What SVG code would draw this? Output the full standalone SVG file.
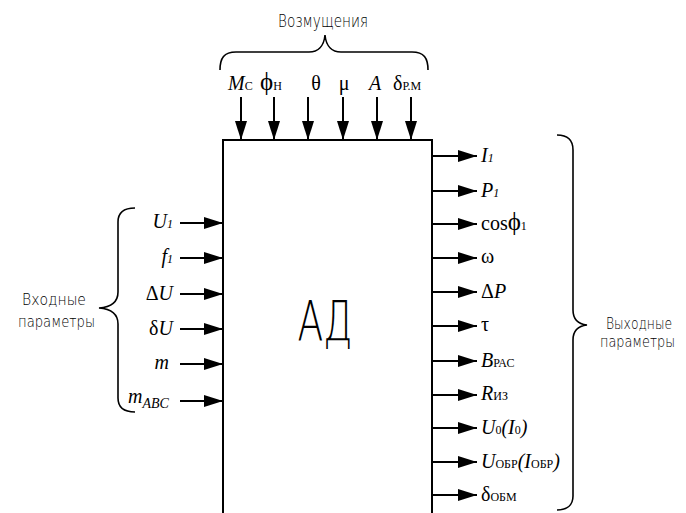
<svg xmlns="http://www.w3.org/2000/svg" width="686" height="513" viewBox="0 0 686 513">
<defs>
<marker id="ah" markerUnits="userSpaceOnUse" markerWidth="20" markerHeight="12" refX="19" refY="6" orient="auto">
<path d="M0,0 L19,6 L0,12 z" fill="#000"/>
</marker>
<style>
.ln{stroke:#000;stroke-width:2;fill:none}
.ar{stroke:#000;stroke-width:2;fill:none;marker-end:url(#ah)}
.br{stroke:#000;stroke-width:1.6;fill:none}
.cy{font-family:'DejaVu Sans',sans-serif;font-weight:200;fill:#000}
.m{font-family:'Liberation Serif','Times New Roman',serif;font-size:20px;fill:#000}
.i{font-style:italic}
.s{font-size:12px}
.ph{font-size:25px}
</style>
</defs>
<rect width="686" height="513" fill="#fff"/>

<g id="block">
<path class="ln" d="M223,514 V140 H432 V514"/>
<text class="cy" x="325" y="340" font-size="56" font-weight="300" text-anchor="middle" textLength="55" lengthAdjust="spacingAndGlyphs">АД</text>
</g>

<g id="disturbances">
<path class="br" d="M220,70 C220,58 224,52 236,52 L309,52 C318,52 324,46 325,35 C326,46 332,52 341,52 L412,52 C424,52 428,58 428,70"/>
<text class="cy" x="278" y="27" font-size="18" textLength="90" lengthAdjust="spacingAndGlyphs">Возмущения</text>
<text class="m" x="228" y="90"><tspan class="i">M</tspan><tspan class="s">С</tspan></text>
<text class="m" x="260" y="90"><tspan class="ph">ϕ</tspan><tspan class="s">Н</tspan></text>
<text class="m" x="316" y="90" text-anchor="middle">θ</text>
<text class="m" x="344" y="90" text-anchor="middle">μ</text>
<text class="m i" x="375" y="90" text-anchor="middle">A</text>
<text class="m" x="393" y="90">δ<tspan class="s">Р.М</tspan></text>
</g>

<g id="inputs">
<path class="br" d="M135,208 C124,208 118,213 118,222 L118,292 C118,301 112,307 99,308 C112,309 118,315 118,324 L118,398 C118,407 124,412 135,412"/>
<text class="cy" x="22" y="305" font-size="15" textLength="64" lengthAdjust="spacingAndGlyphs">Входные</text>
<text class="cy" x="18" y="327" font-size="15" textLength="77" lengthAdjust="spacingAndGlyphs">параметры</text>
<text class="m" x="173" y="228" text-anchor="end"><tspan class="i">U</tspan><tspan class="i s">1</tspan></text>
<text class="m" x="173" y="263" text-anchor="end"><tspan class="i">f</tspan><tspan class="i s">1</tspan></text>
<text class="m" x="173" y="300" text-anchor="end">Δ<tspan class="i">U</tspan></text>
<text class="m" x="173" y="335" text-anchor="end">δ<tspan class="i">U</tspan></text>
<text class="m i" x="169" y="369" text-anchor="end">m</text>
<text class="m i" x="128" y="403">m<tspan font-size="14" dy="5">ABC</tspan></text>
</g>

<g id="outputs">
<path class="br" d="M557,135 C567,135 573,140 573,150 L573,310 C573,319 578,324 587,325 C578,326 573,331 573,340 L573,496 C573,505 567,510 557,510"/>
<text class="cy" x="606" y="329" font-size="15" textLength="66" lengthAdjust="spacingAndGlyphs">Выходные</text>
<text class="cy" x="600" y="347" font-size="15" textLength="75" lengthAdjust="spacingAndGlyphs">параметры</text>
<text class="m" x="481" y="162"><tspan class="i">I</tspan><tspan class="i s">1</tspan></text>
<text class="m" x="481" y="197"><tspan class="i">P</tspan><tspan class="i s">1</tspan></text>
<text class="m" x="481" y="230">cos<tspan class="ph">ϕ</tspan><tspan class="s">1</tspan></text>
<text class="m" x="481" y="263">ω</text>
<text class="m" x="481" y="298">Δ<tspan class="i">P</tspan></text>
<text class="m" x="481" y="331">τ</text>
<text class="m" x="481" y="367"><tspan class="i">B</tspan><tspan class="s">РАС</tspan></text>
<text class="m" x="481" y="400"><tspan class="i">R</tspan><tspan class="s">ИЗ</tspan></text>
<text class="m" x="481" y="434"><tspan class="i">U</tspan><tspan class="s">0</tspan><tspan class="i">(I</tspan><tspan class="s">0</tspan><tspan class="i">)</tspan></text>
<text class="m" x="481" y="468"><tspan class="i">U</tspan><tspan class="s">ОБР</tspan><tspan class="i">(I</tspan><tspan class="s">ОБР</tspan><tspan class="i">)</tspan></text>
<text class="m" x="481" y="501">δ<tspan class="s">ОБМ</tspan></text>
</g>

<g id="connectors">
<line class="ar" x1="241" y1="97" x2="241" y2="140"/>
<line class="ar" x1="274" y1="97" x2="274" y2="140"/>
<line class="ar" x1="308" y1="97" x2="308" y2="140"/>
<line class="ar" x1="343" y1="97" x2="343" y2="140"/>
<line class="ar" x1="377" y1="97" x2="377" y2="140"/>
<line class="ar" x1="411" y1="97" x2="411" y2="140"/>
<line class="ar" x1="180" y1="223" x2="223" y2="223"/>
<line class="ar" x1="180" y1="258" x2="223" y2="258"/>
<line class="ar" x1="180" y1="294" x2="223" y2="294"/>
<line class="ar" x1="180" y1="329" x2="223" y2="329"/>
<line class="ar" x1="180" y1="364" x2="223" y2="364"/>
<line class="ar" x1="180" y1="401" x2="223" y2="401"/>
<line class="ar" x1="432" y1="156" x2="477" y2="156"/>
<line class="ar" x1="432" y1="191" x2="477" y2="191"/>
<line class="ar" x1="432" y1="224" x2="477" y2="224"/>
<line class="ar" x1="432" y1="258" x2="477" y2="258"/>
<line class="ar" x1="432" y1="292" x2="477" y2="292"/>
<line class="ar" x1="432" y1="326" x2="477" y2="326"/>
<line class="ar" x1="432" y1="361" x2="477" y2="361"/>
<line class="ar" x1="432" y1="395" x2="477" y2="395"/>
<line class="ar" x1="432" y1="428" x2="477" y2="428"/>
<line class="ar" x1="432" y1="462" x2="477" y2="462"/>
<line class="ar" x1="432" y1="495" x2="477" y2="495"/>
</g>
</svg>
